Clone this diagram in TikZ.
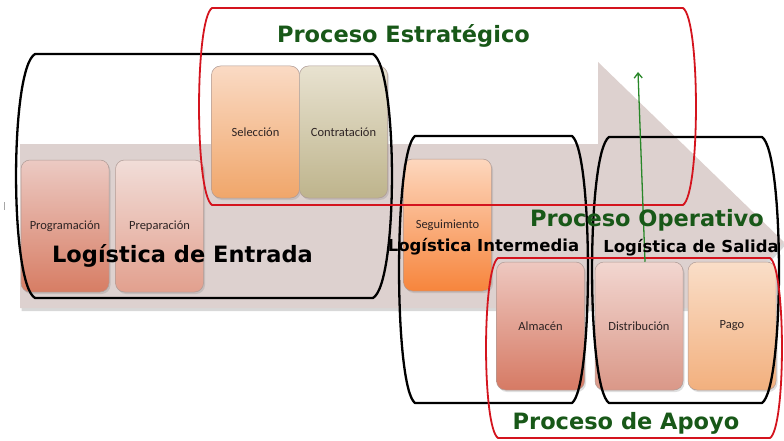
\documentclass[tikz,border=0pt]{standalone}
\usepackage{fontspec}
\setmainfont{DejaVu Sans}
\newfontfamily\boxfont{Carlito}
\usetikzlibrary{shadows,arrows.meta}
\definecolor{arrowbg}{RGB}{221,209,207}
\definecolor{procgreen}{RGB}{24,88,24}
\definecolor{linegreen}{RGB}{40,135,40}
\definecolor{tubred}{RGB}{212,20,30}
\definecolor{boxedge}{RGB}{175,155,150}
\definecolor{boxtext}{RGB}{45,35,35}
\newcommand\tubshape[6]{%
  \draw[#1] (#2,#3) -- (#4,#3)
    .. controls ({#4+1.33*#6},{#3+0.06*(#5-#3)}) and ({#4+1.33*#6},{#5-0.06*(#5-#3)}) .. (#4,#5)
    -- (#2,#5)
    .. controls ({#2-1.33*#6},{#5-0.06*(#5-#3)}) and ({#2-1.33*#6},{#3+0.06*(#5-#3)}) .. cycle;}
\begin{document}
\begin{tikzpicture}[x=1pt,y=-1pt,
  box/.style={rectangle, rounded corners=9pt, draw=boxedge, line width=0.5pt,
    minimum width=88pt, minimum height=132pt, inner sep=0pt,
    font=\boxfont\fontsize{12.5}{14}\selectfont, text=boxtext,
    drop shadow={opacity=0.25, shadow xshift=1.5pt, shadow yshift=-2pt}},
  lowbox/.style={box, minimum height=128pt},
  tubblack/.style={line width=2.3pt, black, line join=round},
  tubredst/.style={line width=1.8pt, tubred, line join=round},
  bigtxt/.style={font=\bfseries\fontsize{22.5}{26}\selectfont, inner sep=0pt, anchor=base},
  medtxt/.style={font=\bfseries\fontsize{16.5}{19}\selectfont, inner sep=0pt, anchor=base},
  greenarrow/.style={draw=linegreen, line width=1.3pt, -{Straight Barb[length=5pt,width=8pt]}}
]
\useasboundingbox (0,0) rectangle (784,441);
\fill[white] (0,0) rectangle (784,441);
% big process arrow
\fill[arrowbg, drop shadow={opacity=0.3, shadow xshift=1.5pt, shadow yshift=-3pt}]
  (20,144) -- (598,144) -- (598,62) -- (784,242) -- (724,308) -- (20,308) -- cycle;
% small tick at left edge
\draw[gray!70, line width=0.6pt] (4,202) -- (4,210);
% boxes
\node[box, top color={rgb,255:red,236;green,202;blue,195}, bottom color={rgb,255:red,215;green,125;blue,100}] (prog) at (65,226) {Programación};
\node[box, top color={rgb,255:red,241;green,221;blue,216}, bottom color={rgb,255:red,226;green,160;blue,142}] (prep) at (159.5,226) {Preparación};
\node[box, top color={rgb,255:red,250;green,218;blue,196}, bottom color={rgb,255:red,240;green,166;blue,106}] (sel) at (255.5,132) {Selección};
\node[box, top color={rgb,255:red,232;green,226;blue,208}, bottom color={rgb,255:red,190;green,180;blue,140}] (cont) at (343.5,132) {Contratación};
\node[box, top color={rgb,255:red,253;green,215;blue,190}, bottom color={rgb,255:red,247;green,133;blue,60}] (seg) at (447.5,225) {Seguimiento};
\node[lowbox, top color={rgb,255:red,238;green,200;blue,192}, bottom color={rgb,255:red,214;green,122;blue,100}] (alm) at (540.5,326) {Almacén};
\node[lowbox, top color={rgb,255:red,242;green,214;blue,208}, bottom color={rgb,255:red,218;green,152;blue,136}] (dist) at (639,326) {Distribución};
\node[lowbox, top color={rgb,255:red,250;green,222;blue,200}, bottom color={rgb,255:red,242;green,176;blue,126}] (pago) at (732,326) {Pago};
% black tubs (logistics groups)
\tubshape{tubblack}{35}{54}{373}{298}{19}
\tubshape{tubblack}{415}{136}{572}{403}{16}
\tubshape{tubblack}{609}{137}{762}{403}{17}
% red tubs (process groups)
\tubshape{tubredst}{212}{8}{683}{205}{13}
\tubshape{tubredst}{498}{258}{770}{438}{12}
% green arrow
\coordinate (optop) at (638,72);
\draw[greenarrow] ([xshift=6pt]dist.north) -- (optop);
% labels
\node[bigtxt, text=procgreen] (estr) at (403.5,43) {Proceso Estratégico};
\node[bigtxt] (entr) at (182.5,262) {Logística de Entrada};
\node[medtxt] (inter) at (483.5,251) {Logística Intermedia};
\node[medtxt] (sal) at (691,252) {Logística de Salida};
\node[bigtxt, text=procgreen] (oper) at (647,226) {Proceso Operativo};
\node[bigtxt, text=procgreen] (apoyo) at (626,429) {Proceso de Apoyo};
\end{tikzpicture}
\end{document}
